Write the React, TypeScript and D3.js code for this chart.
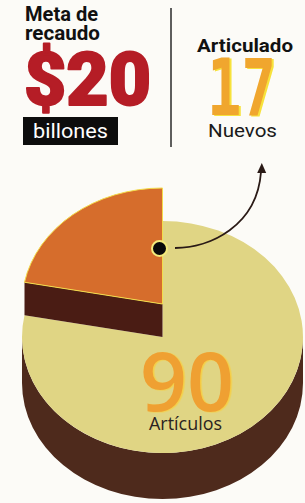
import React from "react";
import * as d3 from "d3";

// ---- data ----
const goalTitle = ["Meta de", "recaudo"];
const goalValue = "$20";
const goalUnit = "billones";
const newTitle = "Articulado";
const newCount = 17;
const newLabel = "Nuevos";
const totalCount = 90;
const totalLabel = "Artículos";
const pieLabels = ["Nuevos", "Artículos"];
const pieShares = [22, 78]; // share of the disc as drawn (percent)

const W = 305;
const H = 503;

export default function App() {
  // ellipse geometry of the 3D pie
  const cx = 162.5;
  const cy = 337;
  const rx = 140.5;
  const ry = 116;
  const k = ry / rx;
  const bodyDepth = 46;
  const lift = 33;
  const sliceDepth = 33;

  const total = d3.sum(pieShares);
  const start = -(pieShares[0] / total) * 2 * Math.PI;
  const pie = d3
    .pie<number>()
    .sort(null)
    .value((d) => d)
    .startAngle(start)
    .endAngle(start + 2 * Math.PI);
  const arcs = pie(pieShares);
  const arcGen = d3.arc<d3.PieArcDatum<number>>().innerRadius(0).outerRadius(rx);

  // body side wall in circle space
  const D = bodyDepth / k;
  const side = d3.path();
  side.moveTo(rx, 0);
  side.arc(0, 0, rx, 0, Math.PI, false);
  side.lineTo(-rx, D);
  side.arc(0, D, rx, Math.PI, 0, true);
  side.closePath();

  // slice cut face (along start angle)
  const a0 = arcs[0].startAngle;
  const px = rx * Math.sin(a0);
  const py = -rx * Math.cos(a0);
  const Ds = sliceDepth / k;
  const cut = d3.path();
  cut.moveTo(0, 0);
  cut.lineTo(px, py);
  cut.lineTo(px, py + Ds);
  cut.lineTo(0, Ds);
  cut.closePath();

  const sliceColors = ["#d66d2c", "#e0d584"];

  return (
    <svg
      width={W}
      height={H}
      viewBox={`0 0 ${W} ${H}`}
      style={{ position: "absolute", left: 0, top: 0, display: "block" }}
    >
      <defs>
        <filter id="yrim" x="-10%" y="-10%" width="130%" height="130%">
          <feDropShadow dx={2} dy={1} stdDeviation={0} floodColor="#f7e23a" floodOpacity={1} />
        </filter>
        <filter id="orim" x="-10%" y="-10%" width="130%" height="130%">
          <feDropShadow dx={1.5} dy={0.5} stdDeviation={0} floodColor="#f5cf45" floodOpacity={1} />
        </filter>
      </defs>
      <rect x={0} y={0} width={W} height={H} fill="#fcfbf7" />

      {/* header left */}
      <g fontFamily="Roboto, 'Noto Sans', sans-serif" fontWeight={700} fill="#111">
        <text x={25} y={21} fontSize={20} textLength={73} lengthAdjust="spacingAndGlyphs">
          {goalTitle[0]}
        </text>
        <text x={25} y={40} fontSize={20} textLength={75} lengthAdjust="spacingAndGlyphs">
          {goalTitle[1]}
        </text>
      </g>
      <text
        x={24}
        y={104.5}
        fontFamily="Roboto, 'Noto Sans', sans-serif"
        fontWeight={900}
        fontSize={74}
        fill="#b51d26"
        stroke="#b51d26"
        strokeWidth={2}
        strokeLinejoin="round"
        textLength={127}
        lengthAdjust="spacingAndGlyphs"
      >
        {goalValue}
      </text>
      <rect x={23} y={117} width={95} height={28} fill="#0d0d0d" />
      <text
        x={33}
        y={138}
        fontFamily="Roboto, 'Noto Sans', sans-serif"
        fontSize={19.5}
        fill="#ffffff"
        textLength={75}
        lengthAdjust="spacingAndGlyphs"
      >
        {goalUnit}
      </text>

      <line x1={171} y1={8} x2={171} y2={147} stroke="#2a2a2a" strokeWidth={1.5} />

      {/* header right */}
      <text
        x={197}
        y={52}
        fontFamily="Roboto, 'Noto Sans', sans-serif"
        fontWeight={700}
        fontSize={17.5}
        fill="#111"
        textLength={96}
        lengthAdjust="spacingAndGlyphs"
      >
        {newTitle}
      </text>
      <text
        x={207}
        y={115}
        fontFamily="'DejaVu Sans Mono', monospace"
        fontWeight={700}
        fontSize={78}
        fill="#f0a62f"
        filter="url(#yrim)"
        textLength={69}
        lengthAdjust="spacingAndGlyphs"
      >
        {newCount}
      </text>
      <text
        x={208}
        y={137}
        fontFamily="Roboto, 'Noto Sans', sans-serif"
        fontSize={18}
        fill="#1a1a1a"
        textLength={69}
        lengthAdjust="spacingAndGlyphs"
      >
        {newLabel}
      </text>

      {/* pie body */}
      <g transform={`translate(${cx},${cy}) scale(1,${k})`}>
        <path d={side.toString()} fill="#4e2a1c" />
        <path d={arcGen(arcs[1]) || ""} fill={sliceColors[1]}>
          <title>{pieLabels[1]}</title>
        </path>
      </g>
      {/* lifted slice */}
      <g transform={`translate(${cx},${cy - lift}) scale(1,${k})`}>
        <path d={cut.toString()} fill="#4a1c14" />
        <path
          d={arcGen(arcs[0]) || ""}
          fill={sliceColors[0]}
          stroke="#f3dc4a"
          strokeWidth={1}
          vectorEffect="non-scaling-stroke"
        >
          <title>{pieLabels[0]}</title>
        </path>
      </g>

      {/* arrow */}
      <path
        d="M175,248 C210,248 257,226 261,172"
        fill="none"
        stroke="#2a1a16"
        strokeWidth={1.8}
      />
      <path d="M261.8,163 L257.2,173 L266.2,173 Z" fill="#2a1a16" />
      <circle cx={159.5} cy={248.5} r={7.5} fill="#0a0a0a" stroke="#f4ea7c" strokeWidth={2} />

      {/* total */}
      <text
        x={140}
        y={411}
        fontFamily="'Open Sans', sans-serif"
        fontWeight={600}
        fontSize={81}
        fill="#efa033"
        filter="url(#orim)"
        textLength={94}
        lengthAdjust="spacingAndGlyphs"
      >
        {totalCount}
      </text>
      <text
        x={149}
        y={430}
        fontFamily="'Open Sans', sans-serif"
        fontSize={18}
        fill="#2a2220"
        textLength={73}
        lengthAdjust="spacingAndGlyphs"
      >
        {totalLabel}
      </text>
    </svg>
  );
}
